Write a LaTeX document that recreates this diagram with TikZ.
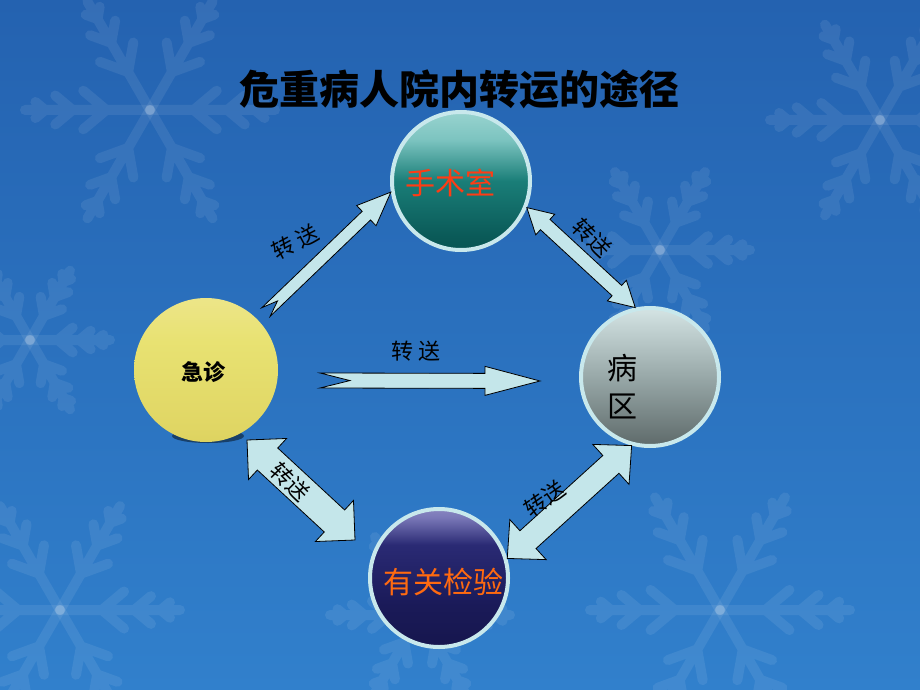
\documentclass[tikz,border=0pt]{standalone}
\usepackage{fontspec}
\newfontfamily\cjk{Noto Sans CJK SC}
\usetikzlibrary{calc}

\definecolor{bgtop}{HTML}{2462B0}
\definecolor{bgbot}{HTML}{3180CC}
\definecolor{arrfill}{HTML}{C4E6EA}
\definecolor{ringcol}{HTML}{C8E8EC}
\definecolor{ssred}{HTML}{FF3C14}
\definecolor{ygorange}{HTML}{FF6A10}
% ball colours
\definecolor{teal0}{HTML}{023C3C}\definecolor{teal1}{HTML}{0A5A58}\definecolor{teal2}{HTML}{1A7E78}
\definecolor{teal3}{HTML}{7CC4C0}\definecolor{teal4}{HTML}{B4E2DE}\definecolor{teal5}{HTML}{C8EEEA}
\definecolor{grey0}{HTML}{353E3E}\definecolor{grey1}{HTML}{5E6A6A}\definecolor{grey2}{HTML}{98A8A8}
\definecolor{grey3}{HTML}{D4E4E4}\definecolor{grey4}{HTML}{F0FAFA}
\definecolor{navy0}{HTML}{10103C}\definecolor{navy1}{HTML}{1A1A58}\definecolor{navy2}{HTML}{2A2A74}
\definecolor{navy3}{HTML}{7A78B8}\definecolor{navy4}{HTML}{B4B0DC}\definecolor{navy5}{HTML}{C8C4EA}
\definecolor{yel0}{HTML}{CFC24C}\definecolor{yel1}{HTML}{E0D664}\definecolor{yel2}{HTML}{E8E272}
\definecolor{yel3}{HTML}{EEE690}\definecolor{yel4}{HTML}{F8F4D4}

\pgfdeclareverticalshading{tealball}{100bp}{color(0bp)=(teal0); color(30bp)=(teal1); color(50bp)=(teal2); color(65bp)=(teal3); color(85bp)=(teal4); color(100bp)=(teal5)}
\pgfdeclareverticalshading{greyball}{100bp}{color(0bp)=(grey0); color(25bp)=(grey1); color(50bp)=(grey2); color(75bp)=(grey3); color(100bp)=(grey4)}
\pgfdeclareverticalshading{navyball}{100bp}{color(0bp)=(navy0); color(40bp)=(navy1); color(62bp)=(navy2); color(72bp)=(navy3); color(85bp)=(navy4); color(100bp)=(navy5)}
\pgfdeclareverticalshading{yellowball}{100bp}{color(0bp)=(yel0); color(30bp)=(yel1); color(60bp)=(yel2); color(80bp)=(yel3); color(100bp)=(yel4)}

\tikzset{
  ball/.style={circle, inner sep=0pt, minimum size=138pt, line width=4pt, draw=ringcol, shade},
  arrowbody/.style={fill=arrfill, draw=black, line width=.8pt, line join=miter},
  zslabel/.style={font={\cjk\fontsize{22}{24}\selectfont}, inner sep=0pt},
  flakeline/.style={white, line width=10pt, opacity=.08, line cap=round},
  flake/.pic={\foreach \a in {0,60,...,300}{
      \draw[rotate=\a] (0,0) -- (1,0)
        (0.35,0) -- +(40:0.24) (0.35,0) -- +(-40:0.24)
        (0.62,0) -- +(40:0.18) (0.62,0) -- +(-40:0.18)
        (0.84,0) -- +(40:0.1) (0.84,0) -- +(-40:0.1);}}
}

% block arrow with notched tail: from, to, half shaft, half head, head length, notch
\newcommand\tailarrow[6]{%
  \path (#1); \pgfgetlastxy{\arrxa}{\arrya}%
  \path (#2); \pgfgetlastxy{\arrxb}{\arryb}%
  \pgfmathsetmacro\arrang{atan2((\arryb)-(\arrya),(\arrxb)-(\arrxa))}%
  \pgfmathsetmacro\arrlen{veclen((\arrxb)-(\arrxa),(\arryb)-(\arrya))}%
  \filldraw[arrowbody, shift={(#1)}, rotate=\arrang]
    (0,#3) -- (\arrlen-#5,#3) -- (\arrlen-#5,#4) -- (\arrlen,0)
    -- (\arrlen-#5,-#4) -- (\arrlen-#5,-#3) -- (0,-#3) -- (#6,0) -- cycle;}
% block arrow with two heads: from, to, half shaft, half head, head length
\newcommand\botharrow[5]{%
  \path (#1); \pgfgetlastxy{\arrxa}{\arrya}%
  \path (#2); \pgfgetlastxy{\arrxb}{\arryb}%
  \pgfmathsetmacro\arrang{atan2((\arryb)-(\arrya),(\arrxb)-(\arrxa))}%
  \pgfmathsetmacro\arrlen{veclen((\arrxb)-(\arrxa),(\arryb)-(\arrya))}%
  \filldraw[arrowbody, shift={(#1)}, rotate=\arrang]
    (0,0) -- (#5,#4) -- (#5,#3) -- (\arrlen-#5,#3) -- (\arrlen-#5,#4) -- (\arrlen,0)
    -- (\arrlen-#5,-#4) -- (\arrlen-#5,-#3) -- (#5,-#3) -- (#5,-#4) -- cycle;}

\begin{document}
\begin{tikzpicture}[x=1pt, y=-1pt]
\useasboundingbox (0,0) rectangle (920,690);
%
\fill[top color=bgtop, bottom color=bgbot] (0,0) rectangle (920,690);
\begin{scope}
\clip (0,0) rectangle (920,690);
\foreach \fx/\fy/\fs in {150/110/125, 880/120/110, 60/610/120, 720/610/130, 660/250/90, 420/615/90, 30/340/80}
   \pic[flakeline, scale=\fs] at (\fx,\fy) {flake};
\end{scope}
%
             \node[font={\cjk\bfseries\fontsize{40}{44}\selectfont}, inner sep=0pt] (title) at (459,89) {危重病人院内转运的途径};
%
              \fill[black, opacity=.45] (208,436) ellipse (36 and 7);
              \node[ball, draw=none, shading=yellowball, minimum size=144pt] (jz) at (206,370) {};
                   \node[ball, shading=tealball] (ssroom) at (461,181) {};
                       \node[ball, shading=greyball] (bq) at (650,377) {};
                        \node[ball, shading=navyball] (yg) at (439,578) {};
%
                           \node[font={\cjk\bfseries\fontsize{22}{24}\selectfont}] (jz text) at (203,372) {急诊};
                           \node[font={\cjk\fontsize{30}{32}\selectfont}, text=ssred] (ss text) at (450,183) {手术室};
                           \node[font={\cjk\fontsize{30}{38}\selectfont}, align=center] (bq text) at (622,387) {病\\区};
                           \node[font={\cjk\fontsize{30}{32}\selectfont}, text=ygorange] (yg text) at (443,582) {有关检验};
%
\coordinate (t1) at (266,312);
\coordinate (t2) at (320,380.5);
\coordinate (h2) at (540,381);
\coordinate (d4a) at (247,440);
\coordinate (d4b) at (355,540);
\tailarrow{t1}{ssroom.189}{6}{14}{34}{16}
\tailarrow{t2}{h2}{7.5}{14.5}{55}{30}
\botharrow{ssroom.-22}{bq.102}{7}{14}{25}
\botharrow{d4a}{d4b}{15}{28}{28}
\botharrow{yg.16}{bq.-105}{12}{27}{28}
%
                           \node[zslabel, rotate=28] (zs1) at (295,242) {转 送};
                           \node[zslabel] (zs2) at (416,351) {转 送};
                           \node[zslabel, rotate=-45] (zs3) at (592,238) {转送};
                           \node[zslabel, rotate=-45] (zs4) at (290,482) {转送};
                           \node[zslabel, rotate=35] (zs5) at (545,499) {转送};
\end{tikzpicture}
\end{document}
